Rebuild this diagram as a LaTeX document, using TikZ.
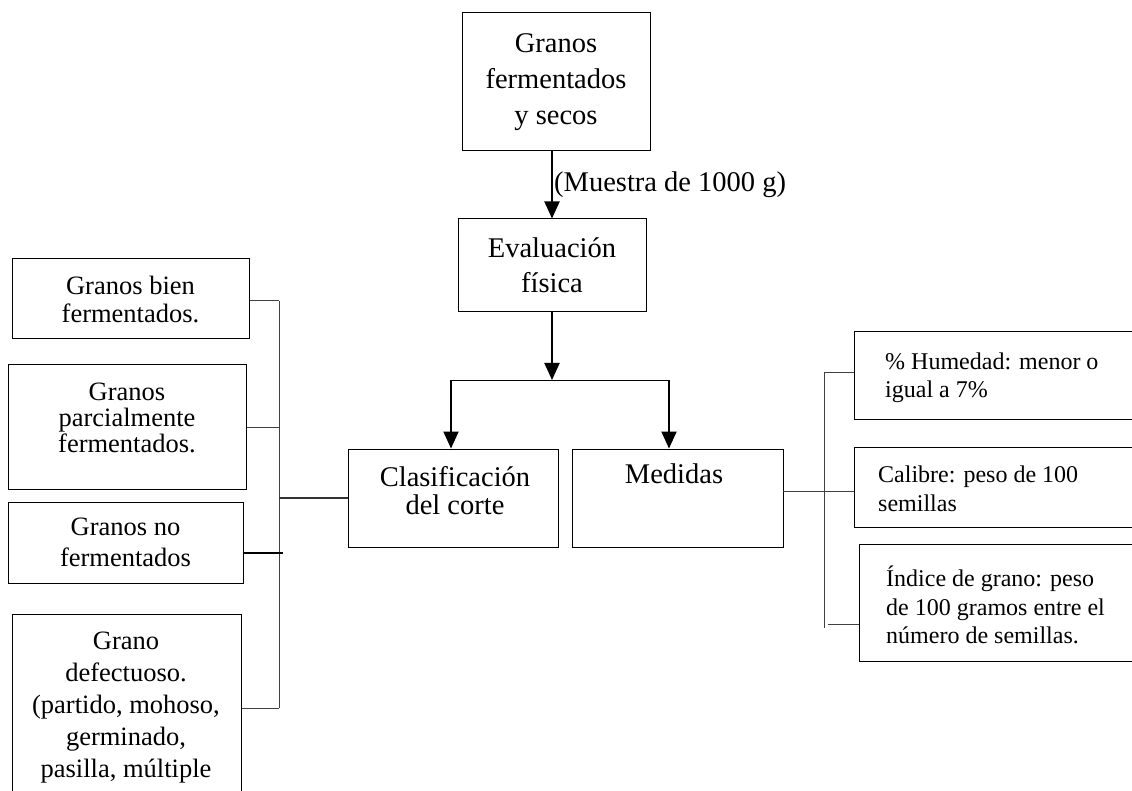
\documentclass[tikz,border=0pt]{standalone}
\usepackage{fontspec}
\setmainfont{Liberation Serif}
\usetikzlibrary{arrows.meta}
\tikzset{
  box/.style={draw, line width=1pt, inner sep=0pt},
  big/.style={font=\fontsize{28.5}{36}\selectfont, align=center},
  mid/.style={font=\fontsize{28.5}{28}\selectfont, align=center},
  lft/.style={font=\fontsize{26.5}{29}\selectfont, align=center},
  rgt/.style={font=\fontsize{24}{28.5}\selectfont, align=left, inner sep=0pt, anchor=west},
  arr/.style={line width=2pt, -{Triangle[width=15pt,length=17pt]}},
  conn/.style={line width=1pt, black!75},
}
\begin{document}
\begin{tikzpicture}[x=1pt,y=-1pt]
\useasboundingbox (0,0) rectangle (1132,791);
\clip (0,0) rectangle (1132,791);

% top chain
\node[box, minimum width=188pt, minimum height=138pt, big] (top) at (556,82) {Granos\\fermentados\\y secos};
\node[box, minimum width=188pt, minimum height=93pt, big, font=\fontsize{28.5}{35}\selectfont] (eval) at (552,265.5) {Evaluación\\física};
\draw[arr] (eval.north |- top.south) -- (eval.north);
\node[big, anchor=west, inner sep=0pt] (muestra) at (554,185) {(Muestra de 1000 g)};

\coordinate (split) at (552,380);
\coordinate (jl) at (451,380);
\coordinate (jr) at (669,380);
\draw[arr] (eval.south) -- (split);
\draw[line width=1pt] (jl) -- (jr);

\node[box, minimum width=210pt, minimum height=98pt] (clas) at (453,498) {};
\node[box, minimum width=211pt, minimum height=98pt] (med) at (677.5,498) {};
\node[mid] (clastxt) at (455,491) {Clasificación\\del corte};
\node[mid] (medtxt) at (674,474) {Medidas};
\draw[arr] (jl) -- (jl |- clas.north);
\draw[arr] (jr) -- (jr |- med.north);

% left boxes
\node[box, minimum width=237pt, minimum height=80pt, lft, font=\fontsize{26.5}{28}\selectfont] (l1) at (130.5,299) {Granos bien\\fermentados.};
\node[box, minimum width=238pt, minimum height=124pt] (l2) at (127,427) {};
\node[lft, font=\fontsize{26.5}{26}\selectfont] (l2txt) at (127,418) {Granos\\parcialmente\\fermentados.};
\node[box, minimum width=235pt, minimum height=81pt, lft, font=\fontsize{26.5}{31}\selectfont] (l3) at (125.5,542.5) {Granos no\\fermentados};
\node[box, minimum width=229pt, minimum height=240pt] (l4) at (126.5,734) {};
\node[lft, font=\fontsize{26.5}{32}\selectfont] (l4txt) at (126,708) {Grano\\defectuoso.\\(partido, mohoso,\\germinado,\\pasilla, múltiple};

\coordinate (bt) at (279,301);
\coordinate (bb) at (279,708);
\coordinate (l3c) at (283,553);
\draw[conn] (bt) -- (bb);
\draw[conn] (l1.east |- bt) -- (bt);
\draw[conn] (l2.east) -- (l2.east -| bt);
\draw[conn] (l4.east |- bb) -- (bb);
\draw[line width=2.5pt] (l3.east |- l3c) -- (l3c);
\draw[line width=2pt, black!80] (clas.west) -- (clas.west -| bt);

% right boxes
\node[box, minimum width=291pt, minimum height=87pt] (r1) at (999.5,375.5) {};
\node[box, minimum width=291pt, minimum height=80pt] (r2) at (999.5,487) {};
\node[box, minimum width=286pt, minimum height=117pt] (r3) at (1002,602.5) {};
\node[rgt] (r1txt) at (885,378) {\% Humedad: menor o\\igual a 7\%};
\node[rgt] (r2txt) at (878,489) {Calibre: peso de 100\\semillas};
\node[rgt] (r3txt) at (886,605) {Índice de grano: peso\\de 100 gramos entre el\\número de semillas.};

\coordinate (rt) at (824,372);
\coordinate (rb) at (824,628);
\coordinate (r3c) at (828,624);
\coordinate (mj) at (783,491);
\draw[conn] (rt) -- (rb);
\draw[conn] (rt) -- (rt -| r1.west);
\draw[conn] (mj) -- (mj -| r2.west);
\draw[conn] (r3c) -- (r3c -| r3.west);
\end{tikzpicture}
\end{document}
